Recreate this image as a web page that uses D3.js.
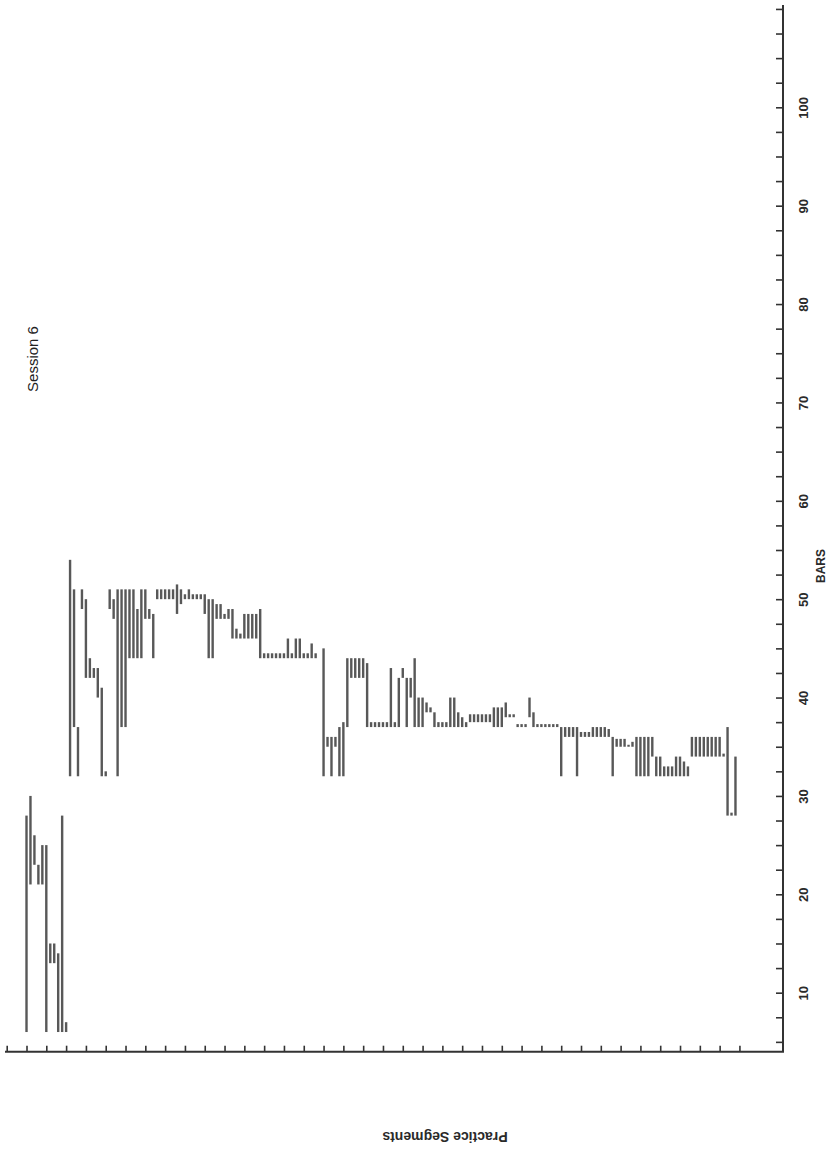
<!DOCTYPE html>
<meta charset="utf-8">
<style>
body { margin: 0; background: #fff; }
svg { display: block; font-family: "Liberation Sans", Arial, sans-serif; }
.bar { fill: #585858; }
.axis path, .axis line { stroke: #333; }
.axis path { stroke-width: 2; }
.axis line { stroke-width: 1.6; }
.axis text { font-size: 13px; font-weight: bold; fill: #2a2a2a; }
</style>
<svg width="832" height="1152"></svg>
<script src="https://cdnjs.cloudflare.com/ajax/libs/d3/7.8.5/d3.min.js"></script>
<script>

// practice segment numbers, first one drawn
var firstSegment = 5;

// lowest bar played in each segment (null = nothing)
var barFrom = [
  6, 21, 23, 21, 21, 6, 13, 13, 6, 6, 6,
  32, 37, 32, 49, 42, 42, 42, 40, 32, 32,
  49, 48, 32, 37, 37, 44, 44, 44, 44, 48,
  48, 44, 50, 50, 50, 50, 50, 48.5, 49.5, 50,
  50, 50, 50, 50, 48.5, 44, 44, 48, 48, 48,
  48, 46, 46, 46, 46, 46, 46, 46, 44, 44,
  44, 44, 44, 44, 44, 44, 44, 44, 44, 44,
  44, 44, 44, null, 32, 35, 32, 35, 32, 32,
  37, 42, 42, 42, 42, 37, 37, 37, 37, 37,
  37, 37, 37, 37, 42, 37, 40, 37, 37, 37,
  38.5, 38.5, 37, 37, 37, 37, 37, 37, 37, 37,
  37, 37.5, 37.5, 37.5, 37.5, 37.5, 37.5, 37, 37, 37,
  38, 38, 38, 37, 37, 37, 38, 37, 37, 37,
  37, 37, 37, 37, 32, 36, 36, 36, 32, 36,
  36, 36, 36, 36, 36, 36, 36, 32, 35, 35,
  35, 35, 35, 32, 32, 32, 32, 34, 32, 32,
  32, 32, 32, 32, 32, 32, 32, 34, 34, 34,
  34, 34, 34, 34, 34, 34, 28, 28, 28
];

// highest bar played in each segment
var barTo = [
  28, 30, 26, 23, 25, 25, 15, 15, 14, 28, 7,
  54, 51, 37, 51, 50, 44, 43, 43, 41, 32.5,
  51, 50, 51, 51, 51, 51, 51, 49, 51, 51,
  49, 48.5, 51, 51, 51, 51, 51, 51.5, 51, 50.5,
  51, 50.5, 50.5, 50.5, 50.5, 50, 50, 49.5, 49.5, 48.5,
  49, 49, 47, 46.5, 48.5, 48.5, 48.5, 48.5, 49, 44.5,
  44.5, 44.5, 44.5, 44.5, 44.5, 46, 44.5, 46, 46, 44.5,
  44.5, 45.5, 44.5, null, 45, 36, 36, 36, 37, 37.5,
  44, 44, 44, 44, 44, 43.5, 37.5, 37.5, 37.5, 37.5,
  37.5, 43, 37.5, 42, 43, 42, 42, 44, 40, 40,
  39.5, 39, 38.5, 37.5, 37.5, 37.5, 40, 40, 38.5, 38,
  37.5, 38.3, 38.3, 38.3, 38.3, 38.3, 38.3, 39, 39, 39,
  39.5, 38.3, 38.3, 37.3, 37.3, 37.3, 40, 38.5, 37.3, 37.3,
  37.3, 37.3, 37.3, 37.3, 37, 37, 37, 37, 37, 36.5,
  36.5, 36.5, 37, 37, 37, 37, 36.8, 36, 35.8, 35.8,
  35.8, 35.2, 35.5, 36, 36, 36, 36, 36, 34, 34,
  33, 33, 33, 34, 34, 33.5, 33, 36, 36, 36,
  36, 36, 36, 36, 36, 34.3, 37, 28.3, 34
];

var barTicks = d3.range(5, 110.1, 2.5);
var barLabels = [10, 20, 30, 40, 50, 60, 70, 80, 90, 100];
var segmentTicks = d3.range(0, 186, 5);

var svg = d3.select("svg");

var x = d3.scaleLinear().domain([0, 196]).range([6.7, 783]);
var y = d3.scaleLinear().domain([4, 110.4]).range([1051.7, 5]);

var data = barFrom.map(function(lo, k) {
  return {seg: firstSegment + k, lo: lo, hi: barTo[k]};
}).filter(function(d) { return d.lo != null; });

svg.append("g").selectAll("rect")
    .data(data)
  .enter().append("rect")
    .attr("class", "bar")
    .attr("x", function(d) { return x(d.seg) - 1.2; })
    .attr("width", 2.4)
    .attr("y", function(d) { return y(d.hi); })
    .attr("height", function(d) { return Math.max(1.5, y(d.lo) - y(d.hi)); });

// value axis on the right, ticks pointing inward
var yAxis = d3.axisRight(y)
    .tickValues(barTicks)
    .tickSizeInner(-7)
    .tickSizeOuter(0)
    .tickPadding(0)
    .tickFormat(function(d) { return barLabels.indexOf(d) >= 0 ? d : ""; });

var gy = svg.append("g")
    .attr("class", "axis")
    .attr("transform", "translate(783,0)")
    .call(yAxis);

gy.select(".domain").attr("d", "M0," + y.range()[1] + "V" + y.range()[0]);
gy.selectAll("text")
    .attr("x", null)
    .attr("dy", null)
    .attr("text-anchor", "middle")
    .attr("dominant-baseline", "central")
    .attr("transform", "translate(20,0) rotate(-90)");

// segment axis along the bottom, ticks pointing up
var xAxis = d3.axisBottom(x)
    .tickValues(segmentTicks)
    .tickSizeInner(-6)
    .tickSizeOuter(0)
    .tickFormat("");

var gx = svg.append("g")
    .attr("class", "axis")
    .attr("transform", "translate(0,1051.7)")
    .call(xAxis);

gx.select(".domain").attr("d", "M5,0H784");

svg.append("text")
    .attr("transform", "translate(821,566) rotate(-90)")
    .attr("text-anchor", "middle")
    .attr("dominant-baseline", "central")
    .style("font-size", "12px")
    .style("font-weight", "bold")
    .style("fill", "#2a2a2a")
    .text("BARS");

svg.append("text")
    .attr("transform", "translate(32,359) rotate(-90)")
    .attr("text-anchor", "middle")
    .attr("dominant-baseline", "central")
    .style("font-size", "15px")
    .style("fill", "#222")
    .text("Session 6");

svg.append("text")
    .attr("transform", "translate(445,1137) rotate(180)")
    .attr("text-anchor", "middle")
    .attr("dominant-baseline", "central")
    .style("font-size", "14px")
    .style("font-weight", "bold")
    .style("fill", "#2a2a2a")
    .text("Practice Segments");

</script>
